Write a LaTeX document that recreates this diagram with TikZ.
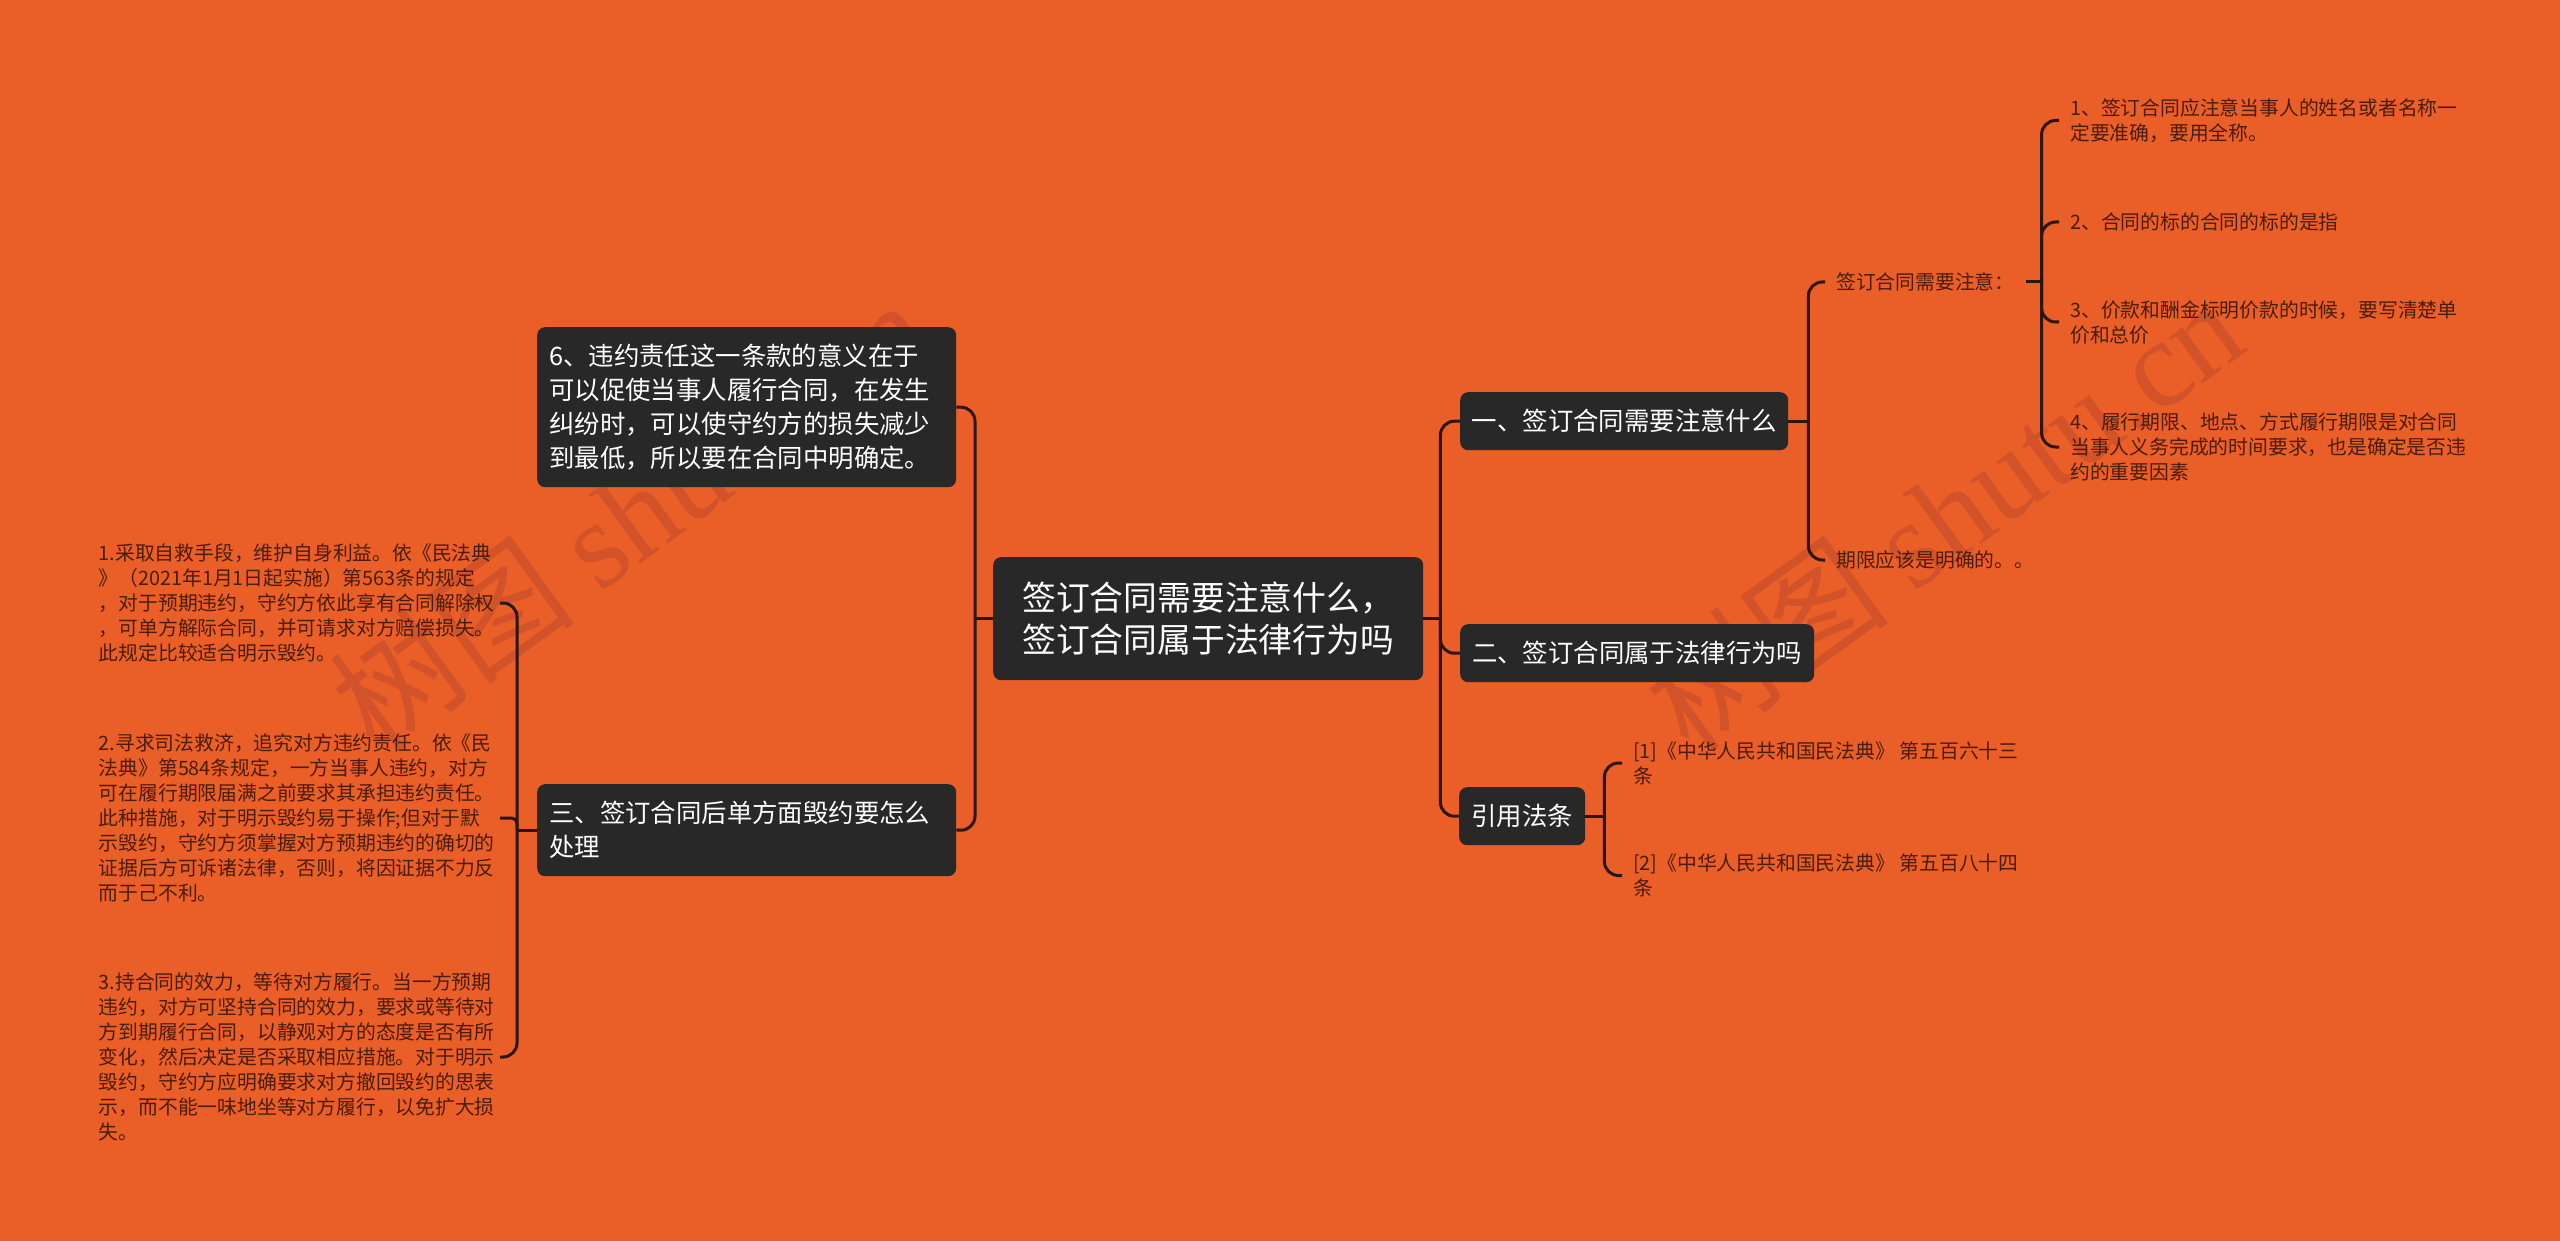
\documentclass[tikz,border=0pt]{standalone}
\usepackage{fontspec}
\setmainfont{Noto Sans CJK SC}
\newfontfamily\wmserif{Liberation Serif}
\definecolor{bg}{HTML}{EA5E28}
\definecolor{wmclr}{HTML}{D2532A}
\definecolor{boxclr}{HTML}{282828}
\definecolor{lineclr}{HTML}{2A160E}
\definecolor{leafclr}{HTML}{4A1C0E}
\tikzset{
  conn/.style={draw=lineclr, line width=3pt},
  brc/.style={conn, rounded corners=14pt},
  box/.style={fill=boxclr, rounded corners=8pt, text=white, inner ysep=0pt},
  rootbox/.style={box, font=\fontsize{33.8}{42}\selectfont, align=left, text width=372pt, inner xsep=29pt, minimum height=123pt, anchor=north west},
  lvbox/.style={box, font=\fontsize{25.4}{34}\selectfont, align=center, inner xsep=0pt, minimum height=58pt, anchor=north west},
  bigbox/.style={box, font=\fontsize{25.4}{34}\selectfont, align=left, text width=395pt, inner xsep=12pt, anchor=north west},
  leaf/.style={text=leafclr, font=\fontsize{19.8}{25}\selectfont, align=left, inner xsep=11pt, inner ysep=1pt},
  wm/.style={text=wmclr, rotate=36, font=\fontsize{124}{124}\selectfont}
}
\begin{document}
\begin{tikzpicture}[x=1pt,y=-1pt]
\fill[bg] (0,0) rectangle (2560,1241);
\useasboundingbox (0,0) rectangle (2560,1241);

% watermarks
\node[wm] (wmL) at (629,514) {树图 {\wmserif shutu.cn}};
\node[wm] (wmR) at (1943,514) {树图 {\wmserif shutu.cn}};

% root
\node[rootbox] (root) at (993,557) {签订合同需要注意什么，\\签订合同属于法律行为吗};

% right level 1
\node[lvbox, minimum width=328pt] (b1) at (1460,392) {一、签订合同需要注意什么};
\node[lvbox, minimum width=354pt] (b2) at (1460,624) {二、签订合同属于法律行为吗};
\node[lvbox, minimum width=126pt] (b3) at (1459,787) {引用法条};

% left level 1
\node[bigbox, minimum height=160pt] (b6) at (537,327) {6、违约责任这一条款的意义在于\\可以促使当事人履行合同，在发生\\纠纷时，可以使守约方的损失减少\\到最低，所以要在合同中明确定。};
\node[bigbox, minimum height=92pt] (b7) at (537,784) {三、签订合同后单方面毁约要怎么\\处理};

% right level 2
\node[leaf, anchor=west] (n1) at (1825,282) {签订合同需要注意：};
\node[leaf, anchor=west] (n2) at (1825,560) {期限应该是明确的。。};

% right leaves
\node[leaf, anchor=west] (l1) at (2059,120.5) {1、签订合同应注意当事人的姓名或者名称一\\定要准确，要用全称。};
\node[leaf, anchor=west] (l2) at (2059,222) {2、合同的标的合同的标的是指};
\node[leaf, anchor=west] (l3) at (2059,322) {3、价款和酬金标明价款的时候，要写清楚单\\价和总价};
\node[leaf, anchor=west] (l4) at (2059,447) {4、履行期限、地点、方式履行期限是对合同\\当事人义务完成的时间要求，也是确定是否违\\约的重要因素};

% references
\node[leaf, anchor=west] (r1) at (1622,763) {[1]《中华人民共和国民法典》 第五百六十三\\条};
\node[leaf, anchor=west] (r2) at (1622,875.5) {[2]《中华人民共和国民法典》 第五百八十四\\条};

% left items
\node[leaf, anchor=east, inner xsep=5pt] (i1) at (500,603) {1.采取自救手段，维护自身利益。依《民法典\\》（2021年1月1日起实施）第563条的规定\\，对于预期违约，守约方依此享有合同解除权\\，可单方解际合同，并可请求对方赔偿损失。\\此规定比较适合明示毁约。};
\node[leaf, anchor=east, inner xsep=5pt] (i2) at (500,818) {2.寻求司法救济，追究对方违约责任。依《民\\法典》第584条规定，一方当事人违约，对方\\可在履行期限届满之前要求其承担违约责任。\\此种措施，对于明示毁约易于操作;但对于默\\示毁约，守约方须掌握对方预期违约的确切的\\证据后方可诉诸法律，否则，将因证据不力反\\而于己不利。};
\node[leaf, anchor=east, inner xsep=5pt] (i3) at (500,1057) {3.持合同的效力，等待对方履行。当一方预期\\违约，对方可坚持合同的效力，要求或等待对\\方到期履行合同，以静观对方的态度是否有所\\变化，然后决定是否采取相应措施。对于明示\\毁约，守约方应明确要求对方撤回毁约的思表\\示，而不能一味地坐等对方履行，以免扩大损\\失。};

% junctions
\coordinate (jr) at ([xshift=17pt]root.east);
\coordinate (jl) at ([xshift=-18pt]root.west);
\coordinate (jb1) at ([xshift=20pt]b1.east);
\coordinate (jn1) at ([xshift=16pt]n1.east);
\coordinate (jb3) at ([xshift=19pt]b3.east);
\coordinate (jb7) at ([xshift=-20pt]b7.west);

% connectors
\draw[conn] (root.east) -- (jr);
\draw[brc] (jr) |- (b1.west);
\draw[brc] (jr) |- (b2.west);
\draw[brc] (jr) |- (b3.west);

\draw[conn] (root.west) -- (jl);
\draw[brc] (jl) |- (b6.east);
\draw[brc] (jl) |- (b7.east);

\draw[conn] (b1.east) -- (jb1);
\draw[brc] (jb1) |- (n1.west);
\draw[brc] (jb1) |- (n2.west);

\draw[conn] (n1.east) -- (jn1);
\draw[brc] (jn1) |- (l1.west);
\draw[brc] (jn1) |- (l2.west);
\draw[brc] (jn1) |- (l3.west);
\draw[brc] (jn1) |- (l4.west);

\draw[conn] (b3.east) -- (jb3);
\draw[brc] (jb3) |- (r1.west);
\draw[brc] (jb3) |- (r2.west);

\draw[conn] (b7.west) -- (jb7);
\draw[brc] (jb7) |- (i1.east);
\draw[conn, rounded corners=6pt] (jb7) |- (i2.east);
\draw[brc] (jb7) |- (i3.east);
\end{tikzpicture}
\end{document}
